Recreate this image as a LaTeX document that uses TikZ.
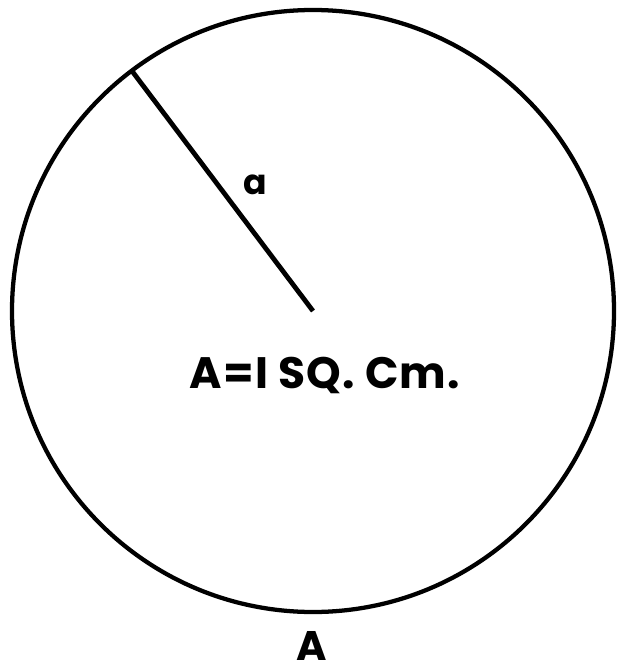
\documentclass[tikz,border=0pt]{standalone}
\usepackage{fontspec}
\setmainfont{Poppins}[UprightFont=* Bold,BoldFont=* Bold]
\newfontfamily\spacedfont{Poppins}[UprightFont=* Bold,LetterSpace=2.5]
\tikzset{
  px/.style={x=0.75pt,y=-0.75pt},
  ink/.style={line width=3.2pt,draw=black},
  lab/.style={inner sep=0pt,text=black}
}
\begin{document}
\begin{tikzpicture}[px]
\useasboundingbox (0,0) rectangle (618,670);
\coordinate (c) at (313,311);
\node[ink,circle,minimum size=602*0.75pt,inner sep=0pt] (circ) at (c) {};
\coordinate (rim) at (132,71);
\draw[ink,line width=3.6pt] (rim) -- (c);
\node[lab,anchor=base,font=\fontsize{26}{26}\selectfont] (a) at (255,195) {a};
\node[lab,anchor=base,font=\spacedfont\fontsize{33}{33}\selectfont] (area) at (325,388) {A=I SQ. Cm.};
\node[lab,anchor=base,font=\fontsize{31}{31}\selectfont] (A) at (312,660) {A};
\end{tikzpicture}
\end{document}
